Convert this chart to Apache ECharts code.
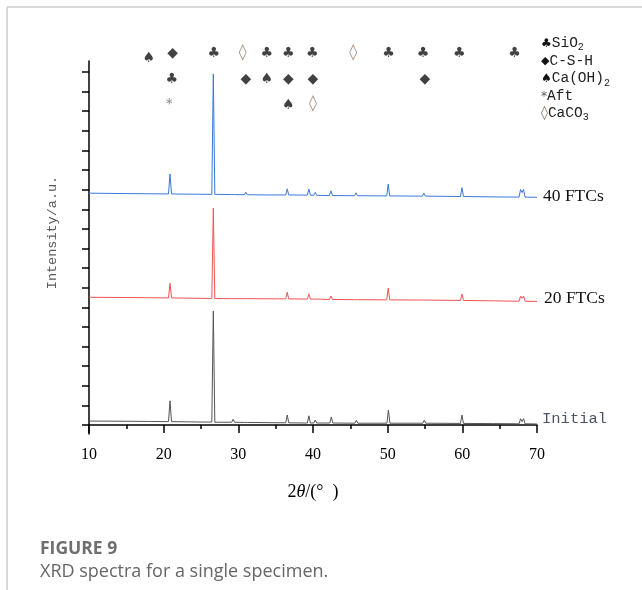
<!DOCTYPE html>
<html>
<head>
<meta charset="utf-8">
<script src="https://cdn.jsdelivr.net/npm/echarts@6/dist/echarts.min.js"></script>
<style>html,body{margin:0;padding:0;background:#fff;}#c{width:642px;height:590px;}</style>
</head>
<body>
<div id="c"></div>
<script>
// ---- data: [2theta (deg), intensity (a.u., stacked)] ----
const initialData = [[10,20],[15,19],[17.8,18],[18.0,28],[18.2,18],[20.65,17],[20.85,123],[21.05,17],[25,15],[26.45,15],[26.65,581],[26.85,14],[29.1,14],[29.3,29],[29.5,14],[30.8,13],[31.0,23],[31.2,13],[36.35,11],[36.55,51],[36.75,11],[39.25,10],[39.45,47],[39.65,10],[40.1,10],[40.3,25],[40.5,10],[42.25,10],[42.45,41],[42.65,10],[45.6,9],[45.8,24],[46.0,9],[49.9,9],[50.1,76],[50.3,9],[54.7,9],[54.9,24],[55.1,9],[59.75,8],[59.95,51],[60.15,8],[63.85,7],[64.0,16],[64.15,7],[67.6,6],[67.8,32],[68.0,18],[68.2,32],[68.4,6],[70,5]];
const ftc20Data = [[10,651],[15,650],[17.8,649],[18,655],[18.2,649],[20.65,648],[20.85,723],[21.05,648],[26.45,645],[26.65,1106],[26.85,645],[29.1,644],[29.3,654],[29.5,644],[30.8,644],[31.0,654],[31.2,644],[36.35,643],[36.55,677],[36.75,643],[39.25,642],[39.45,669],[39.65,642],[40.1,642],[40.3,652],[40.5,642],[42.2,640],[42.4,658],[42.6,640],[45.55,639],[45.75,649],[45.95,639],[49.87,638],[50.07,698],[50.27,638],[54.65,637],[54.85,647],[55.05,637],[59.75,635],[59.95,668],[60.15,635],[63.85,633],[64,638],[64.15,633],[67.6,631],[67.8,657],[68.0,645],[68.2,657],[68.4,631],[70,630]];
const ftc40Data = [[10,1182],[15,1180],[17.8,1179],[18,1189],[18.2,1179],[20.65,1178],[20.85,1280],[21.05,1178],[26.45,1176],[26.65,1790],[26.85,1176],[29.1,1175],[29.3,1180],[29.5,1175],[30.8,1174],[31,1187],[31.2,1174],[33.8,1173],[34,1183],[34.2,1173],[36.35,1173],[36.55,1204],[36.75,1173],[39.25,1172],[39.45,1203],[39.65,1172],[40.1,1171],[40.3,1186],[40.5,1171],[42.2,1170],[42.4,1194],[42.6,1170],[45.55,1169],[45.75,1184],[45.95,1169],[49.87,1168],[50.07,1228],[50.27,1168],[54.65,1167],[54.85,1182],[55.05,1167],[59.75,1165],[59.95,1210],[60.15,1165],[63.85,1163],[64,1168],[64.15,1163],[67.6,1162],[67.8,1201],[68.0,1185],[68.2,1201],[68.4,1162],[70,1161]];

const seriesNames = ['Initial', '20 FTCs', '40 FTCs'];

// phase markers: [2theta, row height (a.u.), glyph]
const markerRow1 = [[18.0,1872,'♠'],[21.2,1897,'◆'],[26.7,1897,'♣'],[30.6,1897,'◊'],[33.8,1897,'♣'],[36.7,1897,'♣'],[39.9,1897,'♣'],[45.4,1897,'◊'],[50.1,1897,'♣'],[54.75,1897,'♣'],[59.6,1897,'♣'],[67.0,1897,'♣']];
const markerRow2 = [[21.1,1760,'♣'],[31.0,1760,'◆'],[33.8,1760,'♠'],[36.7,1760,'◆'],[40.0,1760,'◆'],[55.0,1760,'◆']];
const markerRow3 = [[20.75,1637,'*'],[36.7,1630,'♠'],[40.0,1637,'◊']];

const xTicks = [10, 20, 30, 40, 50, 60, 70];
const yTickValues = [0,100,200,300,400,500,600,700,800,900,1000,1100,1200,1300,1400,1500,1600,1700,1800];

const glyphColor = {'♣':'#111','◆':'#111','♠':'#111','*':'#666','◊':'#8a7868'};
function markerItems(rows){
  const out = [];
  rows.forEach(r => r.forEach(m => out.push({value:[m[0], m[1]], name:m[2], label:{color:glyphColor[m[2]], fontSize: m[2]==='◊' ? 16 : (m[2]==='*' ? 14 : 14)}})));
  return out;
}

const chart = echarts.init(document.getElementById('c'), null, {renderer:'canvas'});
const serifLbl = {fontFamily:'Liberation Serif', fontSize:17.5, color:'#111'};
chart.setOption({
  animation:false,
  backgroundColor:'#fff',
  grid:{left:89, right:105, top:61, bottom:156, containLabel:false},
  xAxis:{
    type:'value', min:xTicks[0], max:xTicks[xTicks.length-1], interval:10,
    axisLine:{show:true, lineStyle:{color:'#000', width:1.5}},
    axisTick:{show:true, inside:false, length:8, lineStyle:{color:'#000', width:1.5}},
    minorTick:{show:true, splitNumber:2, length:4, lineStyle:{color:'#000', width:1.5}},
    splitLine:{show:false},
    axisLabel:{fontFamily:'Liberation Serif', fontSize:16, color:'#000', margin:13},
    name:'2{i|θ}/(°  )', nameLocation:'middle', nameGap:49,
    nameTextStyle:{fontFamily:'Liberation Serif', fontSize:18, color:'#000',
      rich:{i:{fontFamily:'Liberation Serif', fontStyle:'italic', fontSize:18, color:'#000'}}}
  },
  yAxis:{
    type:'value', min:-46, max:1856,
    axisLine:{show:true, lineStyle:{color:'#000', width:1.5}},
    axisTick:{show:true, inside:false, length:7, customValues:yTickValues, lineStyle:{color:'#000', width:1.5}},
    axisLabel:{show:false, customValues:yTickValues},
    splitLine:{show:false},
    name:'Intensity/a.u.', nameLocation:'middle', nameGap:30, nameRotate:90,
    nameTextStyle:{fontFamily:'Liberation Mono', fontSize:13.5, color:'#5a5a5a', padding:[0,0,0,30]}
  },
  series:[
    {name:seriesNames[0], type:'line', data:initialData, showSymbol:false, symbol:'none',
     lineStyle:{color:'#555555', width:1}, itemStyle:{color:'#555555'},
     endLabel:{show:true, formatter:'{a}', distance:5, offset:[0,-5], fontFamily:'Liberation Mono', fontSize:15.5, color:'#4c5466'}},
    {name:seriesNames[1], type:'line', data:ftc20Data, showSymbol:false, symbol:'none',
     lineStyle:{color:'#f05555', width:1}, itemStyle:{color:'#f05555'},
     endLabel:Object.assign({show:true, formatter:'{a}', distance:7, offset:[0,-3]}, serifLbl)},
    {name:seriesNames[2], type:'line', data:ftc40Data, showSymbol:false, symbol:'none',
     lineStyle:{color:'#3a78dc', width:1}, itemStyle:{color:'#3a78dc'},
     endLabel:Object.assign({show:true, formatter:'{a}', distance:6, offset:[0,-1]}, serifLbl)},
    {name:'phases', type:'scatter', clip:false, symbolSize:1, itemStyle:{color:'rgba(0,0,0,0)'},
     data:markerItems([markerRow1, markerRow2, markerRow3]),
     label:{show:true, position:'inside', formatter:'{b}', fontFamily:'DejaVu Sans'}, z:5}
  ],
  graphic:[
    {type:'line', shape:{x1:7, y1:7, x2:642, y2:7}, style:{stroke:'#cccccc', lineWidth:1.5}, silent:true},
    {type:'line', shape:{x1:7, y1:7, x2:7, y2:590}, style:{stroke:'#cccccc', lineWidth:1.5}, silent:true},
    {type:'text', left:541, top:36, style:{text:'{g|♣}SiO{s|2}', rich:{g:{fontFamily:'DejaVu Sans', fontSize:12, fill:'#111'}, s:{fontFamily:'Liberation Mono', fontSize:10, fill:'#222', padding:[8,0,0,0]}}, fontFamily:'Liberation Mono', fontSize:14.5, fill:'#222'}},
    {type:'text', left:541, top:54, style:{text:'{g|◆}C-S-H', rich:{g:{fontFamily:'DejaVu Sans', fontSize:11, fill:'#111'}}, fontFamily:'Liberation Mono', fontSize:14.5, fill:'#222'}},
    {type:'text', left:541, top:71, style:{text:'{g|♠}Ca(OH){s|2}', rich:{g:{fontFamily:'DejaVu Sans', fontSize:12, fill:'#111'}, s:{fontFamily:'Liberation Mono', fontSize:10, fill:'#222', padding:[10,0,0,0]}}, fontFamily:'Liberation Mono', fontSize:14.5, fill:'#222'}},
    {type:'text', left:541, top:89, style:{text:'{g|*}Aft', rich:{g:{fontFamily:'DejaVu Sans', fontSize:12, fill:'#555'}}, fontFamily:'Liberation Mono', fontSize:14.5, fill:'#222'}},
    {type:'text', left:541, top:106, style:{text:'{g|◊}CaCO{s|3}', rich:{g:{fontFamily:'DejaVu Sans', fontSize:14, fill:'#8a7868'}, s:{fontFamily:'Liberation Mono', fontSize:10, fill:'#222', padding:[8,0,0,0]}}, fontFamily:'Liberation Mono', fontSize:14.5, fill:'#222'}},
    {type:'text', left:40, top:540, style:{text:'FIGURE 9', fontFamily:'Open Sans', fontWeight:'bold', fontSize:17.5, fill:'#6e6e6e'}},
    {type:'text', left:40, top:563, style:{text:'XRD spectra for a single specimen.', fontFamily:'Open Sans', fontSize:18, fill:'#666'}}
  ]
});
</script>
</body>
</html>
